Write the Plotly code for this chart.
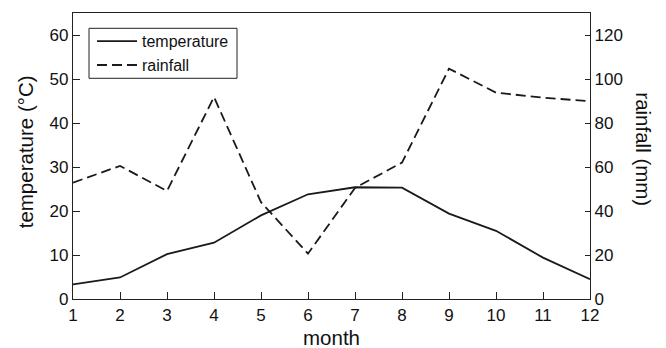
import plotly.graph_objects as go

months = [1, 2, 3, 4, 5, 6, 7, 8, 9, 10, 11, 12]
temperature = [3.3, 4.9, 10.2, 12.8, 19.0, 23.8, 25.4, 25.3, 19.4, 15.5, 9.4, 4.5]
rainfall = [52.9, 60.5, 49.1, 91.8, 44.0, 20.6, 50.5, 62.0, 104.7, 93.8, 91.5, 89.9]
x_ticks = months
left_ticks = [0, 10, 20, 30, 40, 50, 60]
right_ticks = [0, 20, 40, 60, 80, 100, 120]

FONT = "Liberation Sans, Arial, sans-serif"
PLOT_W = 517.0
PLOT_H = 286.0
PLOT_L = 73.0
PLOT_B = 298.7


def px(x):
    return (x - PLOT_L) / PLOT_W


def py(y):
    return (PLOT_B - y) / PLOT_H


fig = go.Figure()
fig.add_trace(go.Scatter(x=months, y=temperature, mode="lines", name="temperature",
                         line=dict(color="#1a1a1a", width=1.8)))
fig.add_trace(go.Scatter(x=months, y=rainfall, mode="lines", name="rainfall", yaxis="y2",
                         line=dict(color="#1a1a1a", width=1.8, dash="10px,5px")))

axis_common = dict(showgrid=False, zeroline=False, showline=True, linecolor="#222",
                   linewidth=1.2, ticks="inside", tickcolor="#222", tickwidth=1,
                   tickfont=dict(size=17, color="#111", family=FONT))

title_font = dict(size=20.5, family=FONT, color="#111")

fig.update_layout(
    width=666, height=348,
    margin=dict(l=73, r=76, t=13, b=49, autoexpand=False),
    paper_bgcolor="white", plot_bgcolor="white",
    font=dict(family=FONT, color="#111"),
    xaxis=dict(range=[1, 12], tickvals=x_ticks, ticklen=7, mirror=True, **axis_common),
    yaxis=dict(range=[0, 65], tickvals=left_ticks, ticklen=7, **axis_common),
    yaxis2=dict(range=[0, 130], tickvals=right_ticks, ticklen=5, overlaying="y", side="right",
                **axis_common),
    legend=dict(x=px(92), y=py(24), xanchor="left", yanchor="top",
                borderwidth=0, bgcolor="rgba(0,0,0,0)",
                font=dict(size=16, family=FONT, color="#111"),
                tracegroupgap=0, itemwidth=40),
    showlegend=True,
    shapes=[
        dict(type="rect", xref="paper", yref="paper", x0=px(89), x1=px(237),
             y0=py(78), y1=py(28), line=dict(color="#222", width=1), fillcolor="rgba(0,0,0,0)"),
    ],
    annotations=[
        dict(text="month", x=0.5, y=py(337), xref="paper", yref="paper",
             xanchor="center", yanchor="middle", showarrow=False, font=title_font),
        dict(text="temperature (°C)", xref="paper", yref="paper", x=px(25),
             y=py(152), xanchor="center", yanchor="middle",
             textangle=-90, showarrow=False, font=title_font),
        dict(text="rainfall (mm)", xref="paper", yref="paper", x=px(644),
             y=py(149), xanchor="center", yanchor="middle",
             textangle=90, showarrow=False, font=title_font),
    ],
)

fig.write_html("out.html", config={"displayModeBar": False},
               post_script="document.body.style.margin='0px';")
